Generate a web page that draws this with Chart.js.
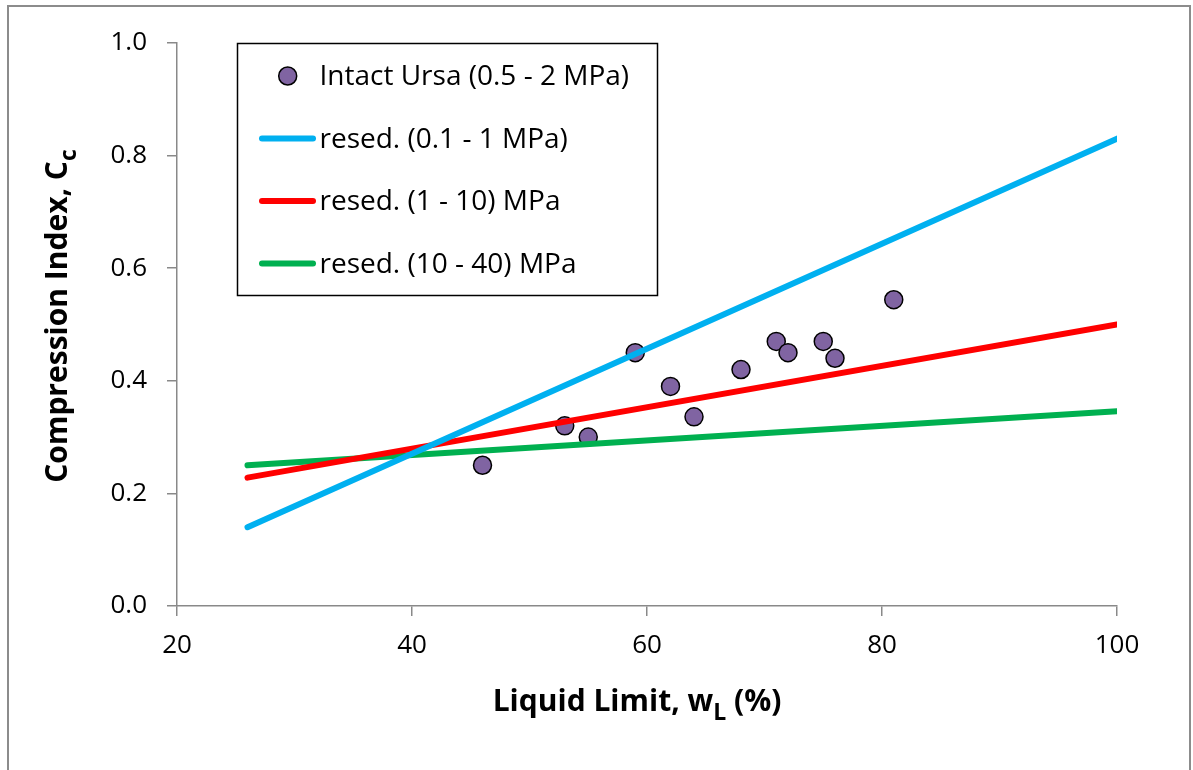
<!DOCTYPE html>
<html>
<head>
<meta charset="utf-8">
<script src="https://cdn.jsdelivr.net/npm/chart.js@4.4.1/dist/chart.umd.min.js"></script>
<style>
  html, body { margin: 0; padding: 0; background: #ffffff; }
  canvas { display: block; }
</style>
</head>
<body>
<canvas id="cc" width="1193" height="770"></canvas>
<script>
// Intact Ursa samples: liquid limit (%) and compression index
const intactLL = [46, 53, 55, 59, 62, 64, 68, 71, 72, 75, 76, 81];
const intactCc = [0.25, 0.32, 0.30, 0.45, 0.39, 0.336, 0.42, 0.47, 0.45, 0.47, 0.44, 0.544];

// Resedimented trend lines, given at their two end points
const fitLL = [26, 100];
const resed01to1 = [0.140, 0.830];
const resed1to10 = [0.228, 0.500];
const resed10to40 = [0.250, 0.346];

const xTicks = [20, 40, 60, 80, 100];
const yTicks = [0.0, 0.2, 0.4, 0.6, 0.8, 1.0];

const seriesLabels = [
  'Intact Ursa (0.5 - 2 MPa)',
  'resed. (0.1 - 1 MPa)',
  'resed. (1 - 10) MPa',
  'resed. (10 - 40) MPa'
];

const FONT = '"Open Sans"';
const AXIS_GREY = '#898989';

function pairs(xs, ys) {
  return xs.map((x, i) => ({ x: x, y: ys[i] }));
}

// Outer frame around the whole figure
const framePlugin = {
  id: 'frame',
  beforeDraw(chart) {
    const ctx = chart.ctx;
    ctx.save();
    ctx.strokeStyle = '#8c8c8c';
    ctx.lineWidth = 2;
    ctx.strokeRect(8, 6, 1182, 820);
    ctx.restore();
  }
};

// Draws "main + subscript + tail" text centred at (0, 0) of current transform
function drawSubText(ctx, main, sub, tail, size) {
  const big = 'bold ' + size + 'px ' + FONT;
  const small = 'bold ' + Math.round(size * 0.75) + 'px ' + FONT;
  ctx.font = big;
  const w1 = ctx.measureText(main).width;
  const w3 = ctx.measureText(tail).width;
  ctx.font = small;
  const w2 = ctx.measureText(sub).width;
  const total = w1 + w2 + w3;
  let x = -total / 2;
  ctx.fillStyle = '#000';
  ctx.textBaseline = 'alphabetic';
  ctx.textAlign = 'left';
  ctx.font = big;
  ctx.fillText(main, x, 0);
  x += w1;
  ctx.font = small;
  ctx.fillText(sub, x, size * 0.3);
  x += w2;
  ctx.font = big;
  ctx.fillText(tail, x, 0);
}

const axisTitlePlugin = {
  id: 'axisTitles',
  afterDraw(chart) {
    const ctx = chart.ctx;
    ctx.save();
    ctx.translate(637, 711);
    drawSubText(ctx, 'Liquid Limit, w', 'L', ' (%)', 30);
    ctx.restore();

    ctx.save();
    ctx.translate(67, 316);
    ctx.rotate(-Math.PI / 2);
    drawSubText(ctx, 'Compression Index, C', 'c', '', 30);
    ctx.restore();
  }
};

// Boxed legend inside the plot, built from the datasets
const boxLegendPlugin = {
  id: 'boxLegend',
  afterDraw(chart) {
    const ctx = chart.ctx;
    const box = { x: 237.5, y: 43.5, w: 420, h: 252 };
    const rowY = [76, 138.5, 201, 263.5];
    ctx.save();
    ctx.fillStyle = '#ffffff';
    ctx.fillRect(box.x, box.y, box.w, box.h);
    ctx.strokeStyle = '#000000';
    ctx.lineWidth = 1.5;
    ctx.strokeRect(box.x, box.y, box.w, box.h);

    chart.data.datasets.forEach((ds, i) => {
      const y = rowY[i];
      if (ds.showLine) {
        ctx.strokeStyle = ds.borderColor;
        ctx.lineWidth = ds.borderWidth;
        ctx.lineCap = 'round';
        ctx.beginPath();
        ctx.moveTo(262, y);
        ctx.lineTo(313, y);
        ctx.stroke();
      } else {
        ctx.fillStyle = ds.backgroundColor;
        ctx.strokeStyle = ds.borderColor;
        ctx.lineWidth = ds.pointBorderWidth;
        ctx.beginPath();
        ctx.arc(287.7, y, ds.pointRadius, 0, Math.PI * 2);
        ctx.fill();
        ctx.stroke();
      }
      ctx.fillStyle = '#000';
      ctx.font = '28px ' + FONT;
      ctx.textAlign = 'left';
      ctx.textBaseline = 'alphabetic';
      ctx.fillText(ds.label, 319.5, y + 9);
    });
    ctx.restore();
  }
};

new Chart(document.getElementById('cc'), {
  type: 'scatter',
  data: {
    datasets: [
      {
        label: seriesLabels[0],
        data: pairs(intactLL, intactCc),
        showLine: false,
        backgroundColor: '#8064A2',
        borderColor: '#000000',
        pointRadius: 9,
        pointBorderWidth: 1.5,
        pointBackgroundColor: '#8064A2',
        pointBorderColor: '#000000',
        order: 10
      },
      {
        label: seriesLabels[1],
        data: pairs(fitLL, resed01to1),
        showLine: true,
        borderColor: '#00B0F0',
        borderWidth: 6,
        pointRadius: 0,
        borderCapStyle: 'round',
        order: 1
      },
      {
        label: seriesLabels[2],
        data: pairs(fitLL, resed1to10),
        showLine: true,
        borderColor: '#FF0000',
        borderWidth: 6,
        pointRadius: 0,
        borderCapStyle: 'round',
        order: 2
      },
      {
        label: seriesLabels[3],
        data: pairs(fitLL, resed10to40),
        showLine: true,
        borderColor: '#00B050',
        borderWidth: 6,
        pointRadius: 0,
        borderCapStyle: 'round',
        order: 3
      }
    ]
  },
  options: {
    responsive: false,
    animation: false,
    devicePixelRatio: 1,
    layout: { padding: { left: 0, top: 43, right: 76, bottom: 0 } },
    plugins: {
      legend: { display: false },
      tooltip: { enabled: false }
    },
    scales: {
      x: {
        type: 'linear',
        min: 20,
        max: 100,
        afterBuildTicks(scale) { scale.ticks = xTicks.map(v => ({ value: v })); },
        afterFit(scale) { scale.height = 164; },
        ticks: {
          font: { family: FONT, size: 26 },
          color: '#000',
          padding: 14,
          maxRotation: 0,
          callback: v => String(v)
        },
        grid: {
          drawOnChartArea: false,
          drawTicks: true,
          tickLength: 10,
          color: AXIS_GREY,
          lineWidth: 1.5
        },
        border: { color: AXIS_GREY, width: 1.5 }
      },
      y: {
        type: 'linear',
        min: 0,
        max: 1,
        afterBuildTicks(scale) { scale.ticks = yTicks.map(v => ({ value: v })); },
        afterFit(scale) { scale.width = 177; },
        ticks: {
          font: { family: FONT, size: 26 },
          color: '#000',
          padding: 20,
          callback: v => Number(v).toFixed(1)
        },
        grid: {
          drawOnChartArea: false,
          drawTicks: true,
          tickLength: 10,
          color: AXIS_GREY,
          lineWidth: 1.5
        },
        border: { color: AXIS_GREY, width: 1.5 }
      }
    }
  },
  plugins: [framePlugin, axisTitlePlugin, boxLegendPlugin]
});
</script>
</body>
</html>
